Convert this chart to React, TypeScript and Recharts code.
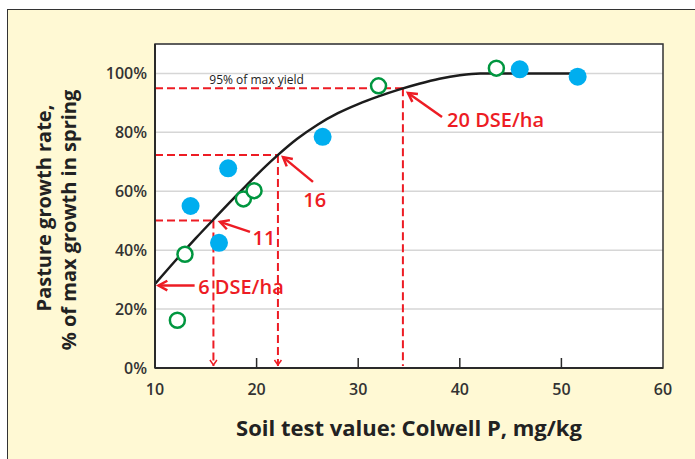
import {
  ComposedChart,
  XAxis,
  YAxis,
  CartesianGrid,
  Line,
  Scatter,
  ReferenceLine,
  ReferenceDot,
  ReferenceArea,
} from "recharts";

const FONT = "'Open Sans', Lato, sans-serif";
const RED = "#ED1C24";
const BLUE = "#00AEEF";
const GREEN = "#00963F";
const INK = "#2a2a2a";

const xTicks = [10, 20, 30, 40, 50, 60];
const yTicks = [0, 20, 40, 60, 80, 100];

// fitted response curve
const curveX = [10, 12, 14, 16, 18, 20, 22, 24, 26, 28, 30, 32, 34, 36, 38, 40, 42, 46, 51];
const curveY = [28.5, 36.4, 44, 51.3, 58.5, 65.5, 72, 77.8, 82.6, 86.5, 89.6, 92.2, 94.5, 96.5, 98.2, 99.4, 100, 100, 100];

// trial sites
const blueX = [13.5, 16.3, 17.2, 26.5, 45.9, 51.6];
const blueY = [55, 42.5, 67.8, 78.5, 101.4, 98.9];
const greenX = [12.2, 12.95, 18.7, 19.75, 32, 43.6];
const greenY = [16.2, 38.6, 57.4, 60.2, 95.8, 101.8];

// dashed guides: critical P for each stocking rate
const guideX = [15.75, 22.1, 34.4];
const guideY = [50.1, 72.3, 95];
const guideHead = [true, true, false];

// annotation arrows (tail -> head) and their labels
const arrowFromX = [13.9, 19.35, 25.55, 38.25];
const arrowFromY = [28, 46.2, 63.2, 85.2];
const arrowToX = [10.35, 16.4, 22.6, 34.9];
const arrowToY = [28, 49.6, 71.6, 93.4];
const noteText = ["6 DSE/ha", "11", "16", "20 DSE/ha"];
const noteX = [14.25, 19.6, 24.6, 38.75];
const noteY = [27.4, 44.1, 57.0, 84.2];

const curve = curveX.map((x, i) => ({ x, y: curveY[i] }));
const blue = blueX.map((x, i) => ({ x, y: blueY[i] }));
const green = greenX.map((x, i) => ({ x, y: greenY[i] }));

const XTick = (p: any) => {
  const { x, y, payload } = p;
  const v = payload.value;
  return (
    <g>
      {v > 10 && v < 60 && (
        <line x1={x} x2={x} y1={y - 10} y2={y - 20} stroke={INK} strokeWidth={1.5} />
      )}
      <text x={x} y={y + 17} textAnchor="middle" fill="#333" fontSize={16} fontWeight={600}>
        {v}
      </text>
    </g>
  );
};

const Arrow = (p: any) => {
  const { x1, y1, x2, y2 } = p;
  const a = Math.atan2(y2 - y1, x2 - x1);
  const L = 10;
  const s = 0.5;
  const pts = [
    [x2 - L * Math.cos(a - s), y2 - L * Math.sin(a - s)],
    [x2, y2],
    [x2 - L * Math.cos(a + s), y2 - L * Math.sin(a + s)],
  ];
  return (
    <g>
      <line x1={x1} y1={y1} x2={x2} y2={y2} stroke={RED} strokeWidth={2.5} />
      <polyline points={pts.map((q) => q.join(",")).join(" ")} fill="none" stroke={RED} strokeWidth={2.5} />
    </g>
  );
};

const dropShape = (head: boolean) => (p: any) => {
  const { x1, y1, x2, y2 } = p;
  return (
    <g>
      <line x1={x1} y1={y1} x2={x2} y2={y2 - 2} stroke={RED} strokeWidth={2} strokeDasharray="8 4" />
      {head && (
        <polyline
          points={`${x2 - 3.5},${y2 - 8} ${x2},${y2 - 3} ${x2 + 3.5},${y2 - 8}`}
          fill="none"
          stroke={RED}
          strokeWidth={1.5}
        />
      )}
    </g>
  );
};

const noteShape = (txt: string) => (p: any) => (
  <text x={p.cx} y={p.cy} dy="0.36em" textAnchor="start" fill={RED} fontSize={20} fontWeight={600}>
    {txt}
  </text>
);

const YTitle = (p: any) => {
  const vb = p.viewBox;
  return (
    <g fill="#222" fontSize={20} fontWeight={700}>
      <text x={vb.x + 51} y={208} textAnchor="middle" transform={`rotate(-90, ${vb.x + 51}, 208)`}>
        Pasture growth rate,
      </text>
      <text x={vb.x + 76} y={220} textAnchor="middle" transform={`rotate(-90, ${vb.x + 76}, 220)`}>
        % of max growth in spring
      </text>
    </g>
  );
};

const XTitle = (p: any) => {
  const vb = p.viewBox;
  return (
    <text x={vb.x + vb.width / 2} y={vb.y + 68} textAnchor="middle" fill="#222" fontSize={22} fontWeight={700}>
      Soil test value: Colwell P, mg/kg
    </text>
  );
};

export default function App() {
  return (
    <div style={{ position: "fixed", left: 0, top: 0, width: 695, height: 459, background: "#fff", overflow: "hidden", fontFamily: FONT }}>
      <div
        style={{
          position: "absolute",
          left: 7,
          top: 9,
          width: 720,
          height: 480,
          background: "#FFF9D4",
          borderLeft: "1.5px solid #333",
          borderTop: "1.5px solid #333",
        }}
      />
      <div style={{ position: "absolute", left: 0, top: 0 }}>
        <ComposedChart width={695} height={459} margin={{ top: 44, right: 32, bottom: 31, left: 0 }}>
          <CartesianGrid vertical={false} stroke="#d6d6d6" strokeWidth={1.5} fill="#fff" fillOpacity={1} />
          <XAxis
            dataKey="x"
            type="number"
            domain={[10, 60]}
            ticks={xTicks}
            interval={0}
            height={60}
            tickSize={8}
            tickMargin={2}
            tickLine={false}
            axisLine={{ stroke: INK, strokeWidth: 2 }}
            tick={<XTick />}
            label={{ content: <XTitle /> }}
          />
          <YAxis
            type="number"
            domain={[0, 110]}
            ticks={yTicks}
            interval={0}
            width={155}
            tickLine={false}
            axisLine={{ stroke: INK, strokeWidth: 2 }}
            tickFormatter={(v: number) => `${v}%`}
            tick={{ fill: "#333", fontSize: 16, fontWeight: 600 }}
            label={{ content: <YTitle /> }}
          />
          <ReferenceArea x1={10} x2={60} y1={0} y2={110} fill="none" stroke="#333" strokeWidth={1.5} />

          {guideX.map((gx, i) => (
            <ReferenceLine
              key={`h${i}`}
              segment={[{ x: 10, y: guideY[i] }, { x: gx, y: guideY[i] }]}
              stroke={RED}
              strokeWidth={2}
              strokeDasharray="8 4"
            />
          ))}
          {guideX.map((gx, i) => (
            <ReferenceLine
              key={`v${i}`}
              segment={[{ x: gx, y: guideY[i] }, { x: gx, y: 0 }]}
              shape={dropShape(guideHead[i])}
            />
          ))}

          <Line
            data={curve}
            dataKey="y"
            type="monotone"
            stroke="#1c1c1c"
            strokeWidth={2.5}
            dot={false}
            activeDot={false}
            isAnimationActive={false}
          />
          <Scatter
            data={green}
            dataKey="y"
            isAnimationActive={false}
            shape={(p: any) => <circle cx={p.cx} cy={p.cy} r={7.5} fill="#fff" stroke={GREEN} strokeWidth={2.5} />}
          />
          <Scatter
            data={blue}
            dataKey="y"
            isAnimationActive={false}
            shape={(p: any) => <circle cx={p.cx} cy={p.cy} r={9} fill={BLUE} />}
          />

          {arrowFromX.map((ax, i) => (
            <ReferenceLine
              key={`a${i}`}
              segment={[{ x: ax, y: arrowFromY[i] }, { x: arrowToX[i], y: arrowToY[i] }]}
              shape={Arrow}
            />
          ))}
          {noteText.map((t, i) => (
            <ReferenceDot key={`n${i}`} x={noteX[i]} y={noteY[i]} r={0} shape={noteShape(t)} />
          ))}
          <ReferenceDot
            x={20}
            y={97.8}
            r={0}
            shape={(p: any) => (
              <text x={p.cx} y={p.cy} dy="0.36em" textAnchor="middle" fill="#222" fontSize={12}>
                95% of max yield
              </text>
            )}
          />
        </ComposedChart>
      </div>
    </div>
  );
}
